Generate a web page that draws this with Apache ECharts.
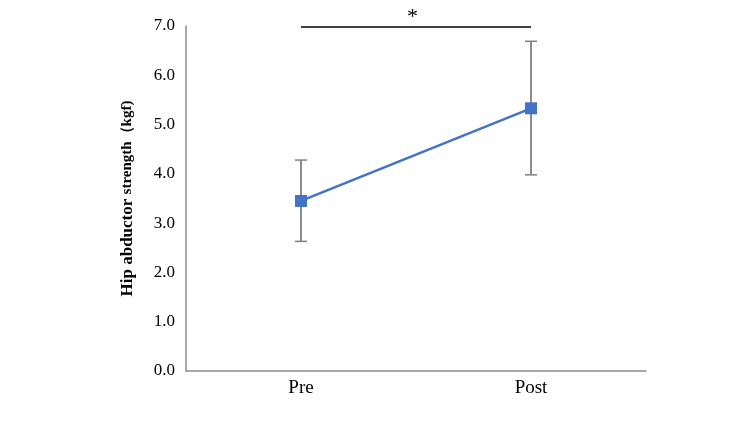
<!DOCTYPE html>
<html>
<head>
<meta charset="utf-8">
<script src="https://cdn.jsdelivr.net/npm/echarts@6/dist/echarts.min.js"></script>
<style>
  html, body { margin: 0; padding: 0; background: #fff; }
  #chart { width: 750px; height: 422px; }
</style>
</head>
<body>
<div id="chart"></div>
<script>
// data
var categories = ['Pre', 'Post'];
var means = [3.45, 5.33];
var errLow = [2.63, 3.98];
var errHigh = [4.28, 6.69];
var sigLevel = [6.98, 6.98];
var yTicks = { min: 0, max: 7, interval: 1 };

var serif = '"Liberation Serif", "DejaVu Serif", serif';
var chart = echarts.init(document.getElementById('chart'));

var errData = categories.map(function (c, i) {
    return [i, errLow[i], errHigh[i]];
});

var option = {
    backgroundColor: '#fff',
    animation: false,
    grid: { left: 186, right: 104, top: 26, bottom: 51 },
    xAxis: {
        type: 'category',
        data: categories,
        boundaryGap: true,
        axisLine: { lineStyle: { color: '#8c8c8c', width: 1.5 } },
        axisTick: { show: false },
        axisLabel: { color: '#000', fontFamily: serif, fontSize: 19, margin: 8 }
    },
    yAxis: {
        type: 'value',
        min: yTicks.min,
        max: yTicks.max,
        interval: yTicks.interval,
        splitLine: { show: false },
        axisLine: { show: true, lineStyle: { color: '#8c8c8c', width: 1.5 } },
        axisTick: { show: false },
        axisLabel: {
            color: '#000', fontFamily: serif, fontSize: 17, margin: 11,
            formatter: function (v) { return v.toFixed(1); }
        },
        name: '{a|Hip abductor }{b|strength（kgf)}',
        nameLocation: 'middle',
        nameGap: 50,
        nameRotate: 90,
        nameTextStyle: {
            rich: {
                a: { fontFamily: serif, fontWeight: 'bold', fontSize: 17, color: '#000' },
                b: { fontFamily: serif, fontWeight: 'bold', fontSize: 15, color: '#000' }
            }
        }
    },
    series: [
        {
            // significance bar
            type: 'line',
            data: sigLevel,
            symbol: 'none',
            lineStyle: { color: '#000', width: 1.5 },
            silent: true,
            z: 1
        },
        {
            type: 'custom',
            data: errData,
            renderItem: function (params, api) {
                var x = api.value(0);
                var lo = api.coord([x, api.value(1)]);
                var hi = api.coord([x, api.value(2)]);
                var hw = 6;
                return {
                    type: 'group',
                    children: [
                        { type: 'line', shape: { x1: lo[0], y1: lo[1], x2: hi[0], y2: hi[1] },
                          style: { stroke: '#404040', lineWidth: 1.2 } },
                        { type: 'line', shape: { x1: lo[0] - hw, y1: lo[1], x2: lo[0] + hw, y2: lo[1] },
                          style: { stroke: '#7f7f7f', lineWidth: 1.5 } },
                        { type: 'line', shape: { x1: hi[0] - hw, y1: hi[1], x2: hi[0] + hw, y2: hi[1] },
                          style: { stroke: '#7f7f7f', lineWidth: 1.5 } }
                    ]
                };
            },
            z: 2
        },
        {
            type: 'line',
            data: means,
            symbol: 'rect',
            symbolSize: 12,
            lineStyle: { color: '#4472C4', width: 2.5 },
            itemStyle: { color: '#4472C4' },
            z: 3
        }
    ],
    graphic: [
        {
            type: 'text',
            left: 407,
            top: 6,
            style: { text: '*', fontFamily: serif, fontSize: 22, fill: '#000' }
        }
    ]
};
chart.setOption(option);
</script>
</body>
</html>
